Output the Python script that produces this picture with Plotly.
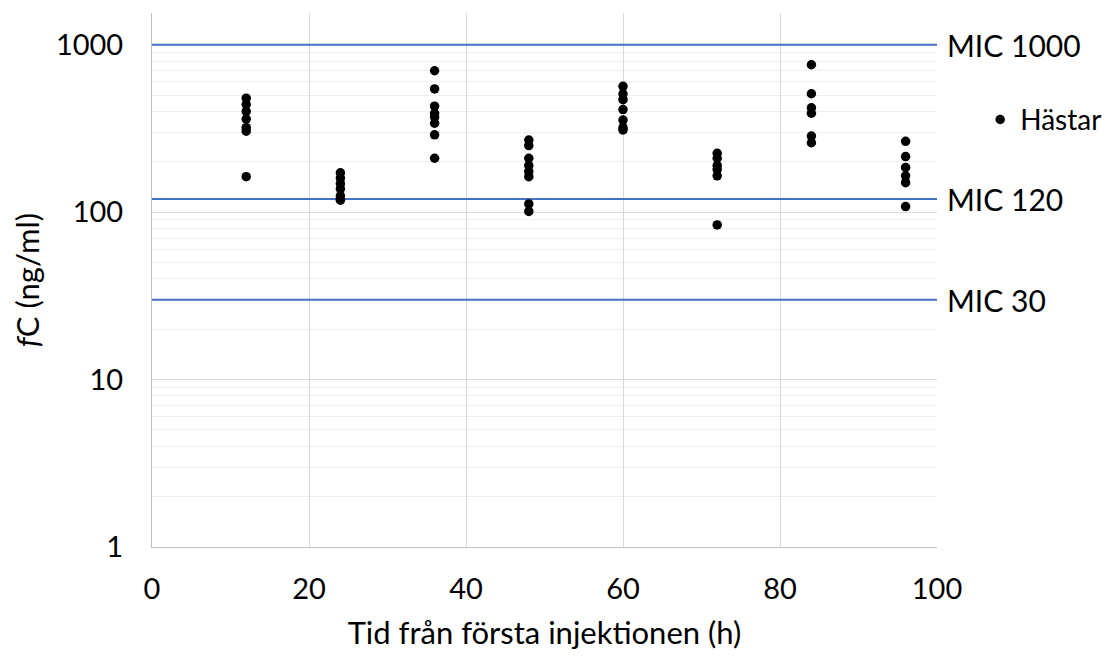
import math
import plotly.graph_objects as go

# Data
times = [12, 24, 36, 48, 60, 72, 84, 96]
conc_12 = [480, 440, 400, 360, 320, 305, 163]
conc_24 = [172, 160, 148, 138, 125, 120, 118]
conc_36 = [700, 545, 430, 390, 370, 340, 290, 210]
conc_48 = [270, 250, 210, 190, 175, 163, 112, 101]
conc_60 = [565, 510, 470, 410, 355, 320, 310]
conc_72 = [225, 210, 190, 180, 165, 84]
conc_84 = [760, 510, 420, 390, 285, 260]
conc_96 = [265, 215, 185, 165, 150, 108]
groups = [conc_12, conc_24, conc_36, conc_48, conc_60, conc_72, conc_84, conc_96]

mic_values = [1000, 120, 30]
mic_labels = ["MIC 1000", "MIC 120", "MIC 30"]

xs, ys = [], []
for t, g in zip(times, groups):
    xs += [t] * len(g)
    ys += g

FONT = "Lato"
fig = go.Figure()

for v in mic_values:
    fig.add_trace(go.Scatter(x=[0, 100], y=[v, v], mode="lines",
                             line=dict(color="#4472C4", width=2),
                             showlegend=False, hoverinfo="skip"))

fig.add_trace(go.Scatter(x=xs, y=ys, mode="markers", name="Hästar",
                         marker=dict(color="black", size=9.5)))

for v, lab in zip(mic_values, mic_labels):
    fig.add_annotation(x=1, xref="paper", y=math.log10(v), yref="y", text=lab,
                       showarrow=False, xanchor="left", xshift=8,
                       font=dict(family=FONT, size=30, color="black"))

fig.update_layout(
    width=1104, height=649,
    margin=dict(l=144, r=175, t=5, b=110),
    plot_bgcolor="white", paper_bgcolor="white",
    font=dict(family=FONT, color="black"),
    legend=dict(x=1.055, y=0.80, xanchor="left", yanchor="middle",
                font=dict(family=FONT, size=28), bgcolor="rgba(0,0,0,0)",
                itemwidth=30),
    xaxis=dict(range=[0, 100], dtick=20, showgrid=True, gridcolor="#d9d9d9",
               gridwidth=1, zeroline=False, showline=True, linecolor="#bfbfbf",
               tickfont=dict(size=29, family=FONT), ticks="",
               ticklabelstandoff=16, automargin=False,
               title=dict(text="Tid från första injektionen (h)",
                          font=dict(size=31, family=FONT), standoff=18)),
    yaxis=dict(type="log", range=[0, 3.19], dtick=1, showgrid=True,
               gridcolor="#d9d9d9", zeroline=False, showline=True,
               linecolor="#bfbfbf", ticks="", automargin=False,
               ticklabelstandoff=22,
               tickfont=dict(size=29, family=FONT),
               minor=dict(showgrid=True, gridcolor="#efefef", ticks=""),
               title=dict(text="<i>f</i>C (ng/ml)",
                          font=dict(size=31, family=FONT), standoff=14)),
)

fig.write_html("out.html")
